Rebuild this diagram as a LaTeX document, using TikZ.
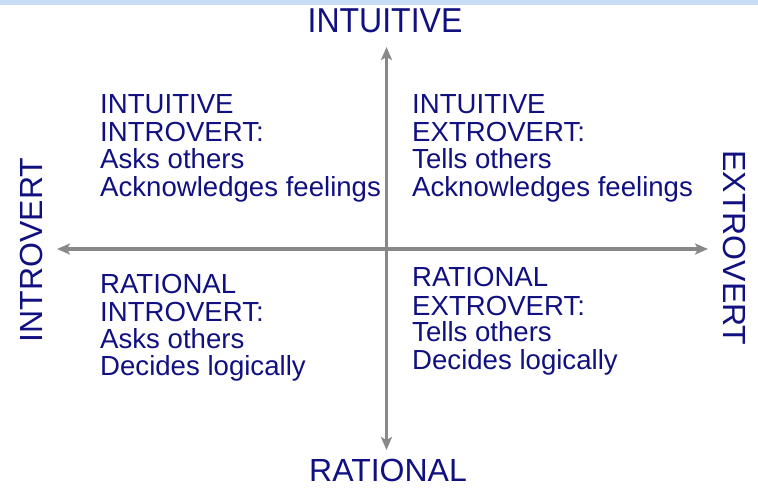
\documentclass[tikz,border=0pt]{standalone}
\usepackage{fontspec}
\setmainfont{Liberation Sans}
\usetikzlibrary{arrows.meta}
\definecolor{navy}{RGB}{16,16,128}
\definecolor{axisgray}{RGB}{136,136,136}
\definecolor{topband}{RGB}{200,222,248}
\begin{document}
\begin{tikzpicture}[x=1pt,y=-1pt,
  axis/.style={draw=axisgray,line width=3.2pt,-{Stealth[length=13pt,width=11pt,inset=3pt]}},
  body/.style={anchor=base west,inner sep=0pt,text=navy,font=\fontsize{27.6}{29}\selectfont},
  axlabel/.style={inner sep=0pt,text=navy,font=\fontsize{32}{34}\selectfont}]
\useasboundingbox (0,0) rectangle (758,488);
\fill[topband] (0,0) rectangle (758,5);
% axes
\coordinate (c) at (386.5,249);
\coordinate (top) at (386.5,47);
\coordinate (bot) at (386.5,450);
\coordinate (lft) at (57,249);
\coordinate (rgt) at (708,249);
\draw[axis] (c) -- (top);
\draw[axis] (c) -- (bot);
\draw[axis] (c) -- (lft);
\draw[axis] (c) -- (rgt);
% axis labels
\node[axlabel,anchor=base] (lint) at (385,32) {\scalebox{1}[1.08]{INTUITIVE}};
\node[axlabel,anchor=base] (lrat) at (388,481.5) {RATIONAL};
\node[axlabel,anchor=base,rotate=90] (lintro) at (42,250) {INTROVERT};
\node[axlabel,anchor=base,rotate=-90] (lextro) at (723,248) {EXTROVERT};
% top-left
\node[body] (tl1) at (100,113.3) {INTUITIVE};
\node[body] (tl2) at (100,141.7) {INTROVERT:};
\node[body] (tl3) at (100,168.6) {Asks others};
\node[body] (tl4) at (100,196) {Acknowledges feelings};
% top-right
\node[body] (tr1) at (412,113.3) {INTUITIVE};
\node[body] (tr2) at (412,141.7) {EXTROVERT:};
\node[body] (tr3) at (412,168.6) {Tells others};
\node[body] (tr4) at (412,196) {Acknowledges feelings};
% bottom-left
\node[body] (bl1) at (100,293.3) {RATIONAL};
\node[body] (bl2) at (100,321) {INTROVERT:};
\node[body] (bl3) at (100,348.3) {Asks others};
\node[body] (bl4) at (100,375.5) {Decides logically};
% bottom-right
\node[body] (br1) at (412,286.7) {RATIONAL};
\node[body] (br2) at (412,315) {EXTROVERT:};
\node[body] (br3) at (412,341.7) {Tells others};
\node[body] (br4) at (412,369.5) {Decides logically};
\end{tikzpicture}
\end{document}
